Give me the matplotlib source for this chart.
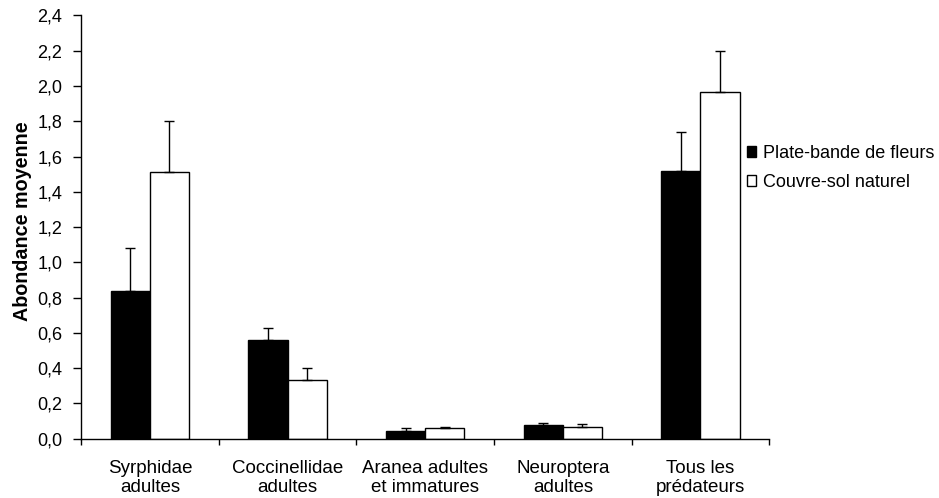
import matplotlib
matplotlib.use('Agg')
import matplotlib.pyplot as plt
import numpy as np
from matplotlib.patches import Patch

plt.rcParams['font.family'] = ['Liberation Sans', 'DejaVu Sans']

categories = ['Syrphidae\nadultes', 'Coccinellidae\nadultes', 'Aranea adultes\net immatures',
              'Neuroptera\nadultes', 'Tous les\nprédateurs']
fleurs = [0.84, 0.56, 0.044, 0.076, 1.52]
fleurs_err = [0.24, 0.07, 0.015, 0.015, 0.22]
naturel = [1.51, 0.335, 0.059, 0.066, 1.967]
naturel_err = [0.29, 0.065, 0.007, 0.017, 0.23]
series_names = ['Plate-bande de fleurs', 'Couvre-sol naturel']
yticks = np.arange(0, 2.41, 0.2)

fig = plt.figure(figsize=(9.39, 4.98), dpi=100)
ax = fig.add_axes([0.0863, 0.119, 0.733, 0.850])

x = np.arange(len(categories))
w = 0.285
ax.bar(x - w / 2, fleurs, w, color='black', edgecolor='black', linewidth=1,
       yerr=[np.zeros(len(fleurs)), fleurs_err], capsize=3.5,
       error_kw=dict(elinewidth=1, capthick=1, ecolor='black'), zorder=2)
ax.bar(x + w / 2, naturel, w, color='white', edgecolor='black', linewidth=1,
       yerr=[np.zeros(len(naturel)), naturel_err], capsize=3.5,
       error_kw=dict(elinewidth=1, capthick=1, ecolor='black'), zorder=2)

ax.set_xlim(-0.5, len(categories) - 0.5)
ax.set_ylim(0, 2.4)
ax.set_yticks(yticks)
ax.set_yticklabels([f'{v:.1f}'.replace('.', ',') for v in yticks], fontsize=13)
ax.set_ylabel('Abondance moyenne', fontsize=14.2, fontweight='bold')
ax.yaxis.set_label_coords(-0.071, 0.514)

# category boundaries as major ticks, labels on minor ticks
ax.set_xticks(np.arange(len(categories) + 1) - 0.5)
ax.set_xticklabels([])
ax.set_xticks(x, minor=True)
ax.set_xticklabels(categories, minor=True, fontsize=13.5, linespacing=1.17)
ax.tick_params(axis='x', which='major', direction='out', length=4, width=1)
ax.tick_params(axis='x', which='minor', length=0, pad=15)
ax.tick_params(axis='y', direction='out', length=5.5, width=1, pad=8)

for s in ['top', 'right']:
    ax.spines[s].set_visible(False)
for s in ['left', 'bottom']:
    ax.spines[s].set_linewidth(1)

handles = [Patch(facecolor='black', edgecolor='black'),
           Patch(facecolor='white', edgecolor='black')]
fig.legend(handles, series_names, loc='center left', bbox_to_anchor=(0.795, 0.663),
           frameon=False, fontsize=13, handlelength=0.55, handleheight=0.55,
           handletextpad=0.35, labelspacing=0.7, borderaxespad=0, borderpad=0)

fig.savefig('out.png', dpi=100)
